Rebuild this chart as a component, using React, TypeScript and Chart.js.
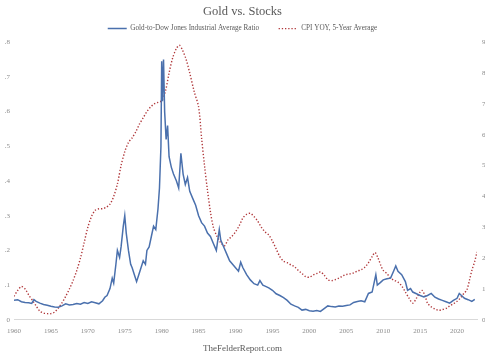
import React, { useEffect, useRef } from "react";
import { Chart, registerables } from "chart.js";

Chart.register(...registerables);

const goldYears = [
  1960.0, 1960.5, 1961.0, 1961.5, 1962.0, 1962.4, 1962.7, 1963.0, 1963.5, 1964.0, 1964.5, 1965.0, 1965.5, 1966.0, 1966.5,
  1967.0, 1967.5, 1968.0, 1968.5, 1969.0, 1969.5, 1970.0, 1970.5, 1971.0, 1971.5, 1972.0, 1972.3, 1972.6, 1973.0, 1973.3,
  1973.5, 1973.8, 1974.0, 1974.3, 1974.5, 1974.8, 1975.0, 1975.2, 1975.5, 1975.8, 1976.0, 1976.3, 1976.6, 1976.9, 1977.2,
  1977.5, 1977.8, 1978.0, 1978.3, 1978.6, 1978.9, 1979.2, 1979.5, 1979.7, 1979.9, 1980.0, 1980.1, 1980.25, 1980.4, 1980.6,
  1980.8, 1981.0, 1981.3, 1981.6, 1982.0, 1982.3, 1982.6, 1982.9, 1983.2, 1983.5, 1983.8, 1984.2, 1984.6, 1985.0, 1985.4,
  1985.8, 1986.2, 1986.6, 1987.0, 1987.4, 1987.8, 1988.0, 1988.4, 1988.8, 1989.2, 1989.6, 1990.0, 1990.4, 1990.7, 1991.0,
  1991.5, 1992.0, 1992.5, 1993.0, 1993.3, 1993.7, 1994.0, 1994.5, 1995.0, 1995.5, 1996.0, 1996.5, 1997.0, 1997.5, 1998.0,
  1998.5, 1999.0, 1999.5, 2000.0, 2000.5, 2001.0, 2001.5, 2002.0, 2002.5, 2003.0, 2003.5, 2004.0, 2004.5, 2005.0, 2005.5,
  2006.0, 2006.5, 2007.0, 2007.5, 2008.0, 2008.5, 2008.8, 2009.0, 2009.2, 2009.6, 2010.0, 2010.5, 2011.0, 2011.4, 2011.7,
  2012.0, 2012.5, 2013.0, 2013.3, 2013.7, 2014.0, 2014.5, 2015.0, 2015.5, 2016.0, 2016.5, 2017.0, 2017.5, 2018.0, 2018.5,
  2019.0, 2019.5, 2020.0, 2020.3, 2020.6, 2021.0, 2021.5, 2022.0, 2022.4,
];
const goldDowRatio = [
  0.056, 0.058, 0.052, 0.05, 0.049, 0.047, 0.058, 0.053, 0.048, 0.044, 0.042, 0.039, 0.037, 0.036, 0.04,
  0.046, 0.043, 0.044, 0.047, 0.045, 0.05, 0.047, 0.052, 0.049, 0.046, 0.055, 0.065, 0.07, 0.09, 0.12,
  0.106, 0.16, 0.2, 0.18, 0.21, 0.27, 0.3, 0.25, 0.2, 0.16, 0.15, 0.13, 0.11, 0.13, 0.15,
  0.17, 0.16, 0.2, 0.21, 0.24, 0.27, 0.26, 0.32, 0.38, 0.5, 0.745, 0.63, 0.75, 0.6, 0.52,
  0.56, 0.47, 0.44, 0.42, 0.4, 0.38, 0.48, 0.42, 0.39, 0.41, 0.37, 0.35, 0.33, 0.3, 0.28,
  0.27, 0.25, 0.24, 0.22, 0.2, 0.26, 0.23, 0.21, 0.19, 0.17, 0.16, 0.15, 0.14, 0.166, 0.15,
  0.13, 0.115, 0.104, 0.1, 0.113, 0.1, 0.097, 0.092, 0.085, 0.075, 0.07, 0.064, 0.056, 0.045, 0.04,
  0.036, 0.028, 0.03, 0.026, 0.025, 0.027, 0.024, 0.032, 0.04, 0.038, 0.037, 0.04, 0.039, 0.041, 0.043,
  0.05, 0.053, 0.055, 0.052, 0.076, 0.08, 0.11, 0.13, 0.1, 0.107, 0.115, 0.118, 0.12, 0.14, 0.155,
  0.14, 0.13, 0.11, 0.085, 0.09, 0.08, 0.075, 0.07, 0.066, 0.07, 0.076, 0.065, 0.06, 0.056, 0.052,
  0.048, 0.056, 0.062, 0.076, 0.07, 0.062, 0.058, 0.053, 0.059,
];

const cpiYears = [
  1960.0, 1960.5, 1961.0, 1961.5, 1962.0, 1962.5, 1963.0, 1963.5, 1964.0, 1964.5, 1965.0, 1965.5, 1966.0, 1966.5, 1967.0,
  1967.5, 1968.0, 1968.5, 1969.0, 1969.5, 1970.0, 1970.5, 1971.0, 1971.5, 1972.0, 1972.5, 1973.0, 1973.5, 1974.0, 1974.5,
  1975.0, 1975.5, 1976.0, 1976.5, 1977.0, 1977.5, 1978.0, 1978.5, 1979.0, 1979.5, 1980.0, 1980.5, 1981.0, 1981.5, 1982.0,
  1982.4, 1982.8, 1983.3, 1983.8, 1984.4, 1985.0, 1985.4, 1985.8, 1986.2, 1986.6, 1987.0, 1987.5, 1988.0, 1988.5, 1989.0,
  1989.5, 1990.0, 1990.5, 1991.0, 1991.5, 1992.0, 1992.5, 1993.0, 1993.5, 1994.0, 1994.5, 1995.0, 1995.5, 1996.0, 1996.5,
  1997.0, 1997.5, 1998.0, 1998.5, 1999.0, 1999.5, 2000.0, 2000.5, 2001.0, 2001.5, 2002.0, 2002.5, 2003.0, 2003.5, 2004.0,
  2004.5, 2005.0, 2005.5, 2006.0, 2006.5, 2007.0, 2007.5, 2008.0, 2008.5, 2008.9, 2009.3, 2009.7, 2010.0, 2010.5, 2011.0,
  2011.5, 2012.0, 2012.5, 2013.0, 2013.5, 2014.0, 2014.5, 2015.0, 2015.3, 2015.7, 2016.0, 2016.5, 2017.0, 2017.5, 2018.0,
  2018.6, 2019.0, 2019.5, 2020.0, 2020.5, 2021.0, 2021.3, 2021.7, 2022.0, 2022.4, 2022.7,
];
const cpiYoY5yr = [
  0.76, 0.95, 1.08, 1.0, 0.8, 0.63, 0.45, 0.28, 0.22, 0.2, 0.2, 0.25, 0.38, 0.55, 0.76,
  1.0, 1.27, 1.6, 2.0, 2.5, 3.0, 3.35, 3.55, 3.6, 3.6, 3.65, 3.75, 4.0, 4.4, 5.0,
  5.45, 5.75, 5.9, 6.1, 6.35, 6.55, 6.75, 6.9, 7.0, 7.05, 7.1, 7.4, 8.0, 8.5, 8.8,
  8.9, 8.75, 8.45, 8.0, 7.4, 6.9, 5.9, 5.0, 4.2, 3.5, 3.0, 2.7, 2.5, 2.4, 2.6,
  2.7, 2.85, 3.05, 3.3, 3.42, 3.45, 3.35, 3.2, 3.0, 2.85, 2.75, 2.55, 2.3, 2.05, 1.9,
  1.85, 1.78, 1.72, 1.6, 1.5, 1.4, 1.38, 1.45, 1.5, 1.55, 1.45, 1.3, 1.27, 1.3, 1.35,
  1.42, 1.47, 1.49, 1.52, 1.58, 1.62, 1.7, 1.85, 2.05, 2.18, 2.0, 1.75, 1.6, 1.5, 1.35,
  1.28, 1.22, 1.1, 0.9, 0.7, 0.54, 0.7, 0.9, 0.95, 0.75, 0.54, 0.42, 0.35, 0.31, 0.33,
  0.38, 0.45, 0.52, 0.6, 0.72, 0.88, 0.95, 1.3, 1.6, 1.9, 2.2,
];

const leftTicks = [0, 0.1, 0.2, 0.3, 0.4, 0.5, 0.6, 0.7, 0.8];
const rightTickLabels = ["0%", "1%", "2%", "3%", "4%", "5%", "6%", "7%", "8%", "9%"];
const xTickYears = [1960, 1965, 1970, 1975, 1980, 1985, 1990, 1995, 2000, 2005, 2010, 2015, 2020];

const TITLE = "Gold vs. Stocks";
const SOURCE = "TheFelderReport.com";
const SERIES_GOLD = "Gold-to-Dow Jones Industrial Average Ratio";
const SERIES_CPI = "CPI YOY, 5-Year Average";

const FONT = "'Liberation Serif', 'Times New Roman', serif";
const TICK_COLOR = "#8c8c8c";
const TEXT_COLOR = "#595959";
const CPI_DASH = [1.3, 1.9];

export default function App() {
  const ref = useRef<HTMLCanvasElement | null>(null);

  useEffect(() => {
    if (!ref.current) return;
    const defaultLabels = (Chart.defaults as any).plugins.legend.labels.generateLabels;
    const chart = new Chart(ref.current, {
      type: "line",
      data: {
        datasets: [
          {
            label: SERIES_GOLD,
            data: goldYears.map((x, i) => ({ x, y: goldDowRatio[i] })),
            yAxisID: "y",
            borderColor: "#4a70ad",
            backgroundColor: "#4a70ad",
            borderWidth: 1.5,
            pointRadius: 0,
            pointStyle: "line",
            tension: 0,
          },
          {
            label: SERIES_CPI,
            data: cpiYears.map((x, i) => ({ x, y: cpiYoY5yr[i] })),
            yAxisID: "y1",
            borderColor: "#b0373a",
            backgroundColor: "#b0373a",
            borderWidth: 1.4,
            borderDash: CPI_DASH,
            pointRadius: 0,
            pointStyle: "line",
            tension: 0.3,
          },
        ],
      },
      options: {
        responsive: false,
        animation: false,
        layout: { padding: { top: 0, bottom: 5, left: 0, right: 0 } },
        plugins: {
          title: {
            display: true,
            text: TITLE,
            color: TEXT_COLOR,
            font: { family: FONT, size: 12.5, weight: "normal" },
            padding: { top: 4, bottom: 4.5 },
          },
          subtitle: {
            display: true,
            position: "bottom",
            text: SOURCE,
            color: TEXT_COLOR,
            font: { family: FONT, size: 9, weight: "normal" },
            padding: { top: 1, bottom: 0 },
          },
          legend: {
            display: true,
            position: "top",
            labels: {
              usePointStyle: true,
              pointStyleWidth: 19,
              boxHeight: 7,
              color: TEXT_COLOR,
              font: { family: FONT, size: 7.2 },
              padding: 1.5,
              generateLabels: (c: any) =>
                defaultLabels(c).map((item: any, i: number) =>
                  i === 0
                    ? { ...item, text: item.text + "\u2003\u2003\u2002" }
                    : { ...item, lineDash: CPI_DASH, lineWidth: 1.4 }
                ),
            },
          },
          tooltip: { enabled: false },
        },
        scales: {
          x: {
            type: "linear",
            min: 1960,
            max: 2022.7,
            afterBuildTicks: (scale: any) => {
              scale.ticks = xTickYears.map((v) => ({ value: v }));
            },
            ticks: {
              autoSkip: false,
              maxRotation: 0,
              color: TICK_COLOR,
              font: { family: FONT, size: 7 },
              padding: 7,
              callback: (v: any) => String(v),
            },
            grid: { display: false, drawTicks: false, tickLength: 0 },
            border: { display: true, color: "#d9d9d9", width: 1 },
          },
          y: {
            type: "linear",
            position: "left",
            min: 0,
            max: 0.8,
            afterBuildTicks: (scale: any) => {
              scale.ticks = leftTicks.map((v) => ({ value: v }));
            },
            afterFit: (scale: any) => {
              scale.width = 12;
            },
            ticks: {
              color: TICK_COLOR,
              font: { family: FONT, size: 7 },
              padding: 4,
              callback: (v: any) => (Number(v) === 0 ? "0" : Number(v).toFixed(1).replace(/^0/, "")),
            },
            grid: { display: false, drawTicks: false, tickLength: 0 },
            border: { display: false },
          },
          y1: {
            type: "linear",
            position: "right",
            min: 0,
            max: 9,
            afterBuildTicks: (scale: any) => {
              scale.ticks = rightTickLabels.map((_, i) => ({ value: i }));
            },
            afterFit: (scale: any) => {
              scale.width = 8;
            },
            ticks: {
              color: TICK_COLOR,
              font: { family: FONT, size: 7 },
              padding: 5,
              callback: (v: any) => rightTickLabels[Number(v)] ?? "",
            },
            grid: { display: false, drawTicks: false, tickLength: 0 },
            border: { display: false },
          },
        },
      },
    });
    return () => chart.destroy();
  }, []);

  return (
    <div style={{ position: "fixed", left: 0, top: 0, width: 485, height: 359, overflow: "hidden", background: "#fff" }}>
      <canvas ref={ref} width={485} height={359} style={{ display: "block" }} />
    </div>
  );
}
